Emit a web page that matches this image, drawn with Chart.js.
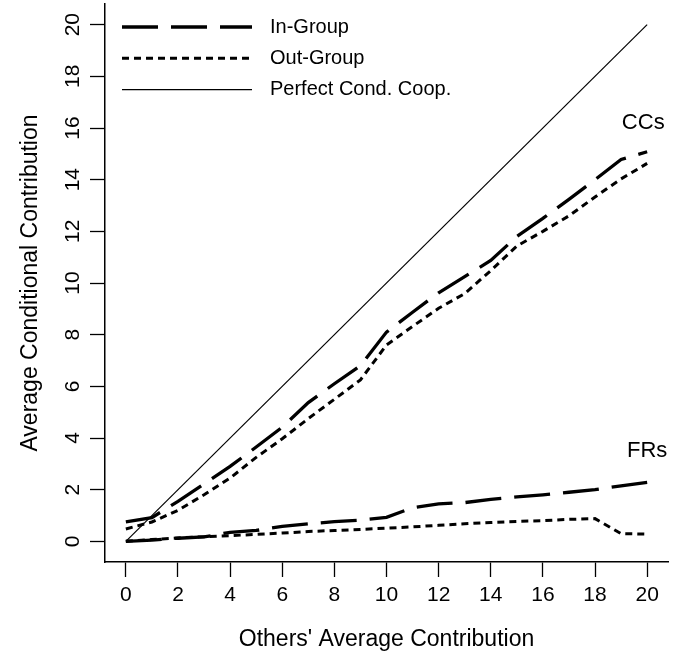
<!DOCTYPE html>
<html>
<head>
<meta charset="utf-8">
<script src="https://cdn.jsdelivr.net/npm/chart.js@4"></script>
<style>
  html, body { margin: 0; padding: 0; background: #fff; }
  #wrap { width: 675px; height: 657px; }
</style>
</head>
<body>
<div id="wrap"><canvas id="chart" width="675" height="657"></canvas></div>
<script>
const othersAvg = [0, 1, 2, 3, 4, 5, 6, 7, 8, 9, 10, 11, 12, 13, 14, 15, 16, 17, 18, 19, 20];
const inGroupCC = [0.75, 0.92, 1.55, 2.22, 2.9, 3.65, 4.42, 5.37, 6.1, 6.8, 8.1, 8.87, 9.62, 10.25, 10.87, 11.8, 12.5, 13.24, 14.0, 14.78, 15.08];
const outGroupCC = [0.48, 0.75, 1.2, 1.8, 2.45, 3.25, 3.97, 4.75, 5.5, 6.25, 7.6, 8.32, 9.02, 9.59, 10.48, 11.43, 12.0, 12.6, 13.33, 14.03, 14.63];
const inGroupFR = [0, 0.05, 0.12, 0.17, 0.35, 0.42, 0.58, 0.68, 0.76, 0.82, 0.93, 1.3, 1.45, 1.5, 1.62, 1.72, 1.8, 1.9, 2.0, 2.15, 2.28];
const outGroupFR = [0, 0.07, 0.13, 0.18, 0.22, 0.27, 0.32, 0.38, 0.42, 0.46, 0.51, 0.56, 0.62, 0.68, 0.73, 0.77, 0.8, 0.85, 0.88, 0.3, 0.28];
const perfectX = [0, 20];
const perfectY = [0, 20];
const xTicks = [0, 2, 4, 6, 8, 10, 12, 14, 16, 18, 20];
const yTicks = [0, 2, 4, 6, 8, 10, 12, 14, 16, 18, 20];
const legendLabels = ['In-Group', 'Out-Group', 'Perfect Cond. Coop.'];
const groupLabels = [{ text: 'CCs', x: 19.85, y: 16.2 }, { text: 'FRs', x: 20, y: 3.5 }];

const FONT = 'Liberation Sans, Arial, Helvetica, sans-serif';
const longDash = [36, 13];
const shortDash = [7, 5];

function pts(xs, ys) {
  return xs.map((x, i) => ({ x: x, y: ys[i] }));
}

function series(ys, dash, width) {
  return {
    data: pts(othersAvg, ys),
    borderColor: '#000',
    borderWidth: width,
    borderDash: dash,
    pointRadius: 0,
    tension: 0,
    fill: false
  };
}

const datasets = [
  series(inGroupCC, longDash, 3.3),
  series(outGroupCC, shortDash, 3),
  series(inGroupFR, longDash, 3.3),
  series(outGroupFR, shortDash, 3),
  { data: pts(perfectX, perfectY), borderColor: '#000', borderWidth: 1.2, pointRadius: 0, tension: 0, fill: false }
];

// no extra room for end labels, the plot box is fixed
function noPad(s) {
  s.paddingTop = 0;
  s.paddingBottom = 0;
  s.paddingLeft = 0;
  s.paddingRight = 0;
}

// legend + CCs/FRs labels drawn over the plot
const extras = {
  id: 'extras',
  afterDatasetsDraw(chart) {
    const ctx = chart.ctx;
    const xs = chart.scales.x, ys = chart.scales.y;
    const styles = [[longDash, 3.3], [shortDash, 3], [[], 1.2]];
    ctx.save();
    ctx.fillStyle = '#000';
    ctx.strokeStyle = '#000';
    ctx.font = '20px ' + FONT;
    ctx.textBaseline = 'middle';
    legendLabels.forEach((lab, i) => {
      const y = 27 + i * 31.3;
      ctx.setLineDash(styles[i][0]);
      ctx.lineWidth = styles[i][1];
      ctx.beginPath();
      ctx.moveTo(122, y);
      ctx.lineTo(252, y);
      ctx.stroke();
      ctx.fillText(lab, 270, y);
    });
    ctx.setLineDash([]);
    ctx.font = '22px ' + FONT;
    ctx.textAlign = 'center';
    groupLabels.forEach(g => {
      ctx.fillText(g.text, xs.getPixelForValue(g.x), ys.getPixelForValue(g.y));
    });
    ctx.restore();
  }
};

new Chart(document.getElementById('chart'), {
  type: 'line',
  data: { datasets: datasets },
  plugins: [extras],
  options: {
    responsive: false,
    animation: false,
    layout: { padding: { top: 4, right: 7, left: 0, bottom: 0 } },
    plugins: { legend: { display: false }, tooltip: { enabled: false } },
    scales: {
      x: {
        type: 'linear',
        min: -0.8,
        max: 20.8,
        afterBuildTicks: s => { s.ticks = xTicks.map(v => ({ value: v })); },
        afterFit: s => { s.height = 95; noPad(s); },
        ticks: { color: '#000', font: { family: FONT, size: 21 }, padding: 6, maxRotation: 0 },
        grid: { drawOnChartArea: false, drawTicks: true, tickLength: 15, tickWidth: 1.3, tickColor: '#000' },
        border: { display: true, color: '#000', width: 1.5 },
        title: { display: true, text: "Others' Average Contribution", color: '#000', font: { family: FONT, size: 23 }, padding: { top: 0, bottom: 4 } }
      },
      y: {
        type: 'linear',
        min: -0.8,
        max: 20.8,
        afterBuildTicks: s => { s.ticks = yTicks.map(v => ({ value: v })); },
        afterFit: s => { s.width = 105; noPad(s); },
        ticks: { color: '#000', font: { family: FONT, size: 21 }, padding: 5, minRotation: 90, maxRotation: 90, crossAlign: 'center' },
        grid: { drawOnChartArea: false, drawTicks: true, tickLength: 15, tickWidth: 1.3, tickColor: '#000' },
        border: { display: true, color: '#000', width: 1.5 },
        title: { display: true, text: 'Average Conditional Contribution', color: '#000', font: { family: FONT, size: 23 }, padding: { top: 17, bottom: 0 } }
      }
    }
  }
});
</script>
</body>
</html>
